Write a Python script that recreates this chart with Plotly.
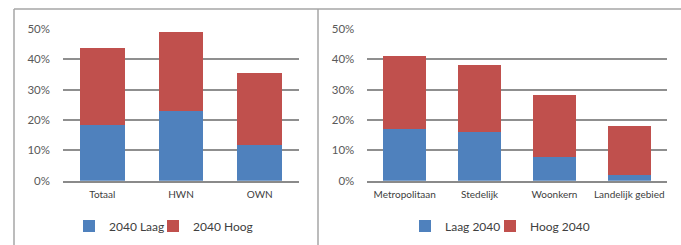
import plotly.graph_objects as go

cats_left = ["Totaal", "HWN", "OWN"]
laag_left = [0.183, 0.229, 0.118]
hoog_left = [0.252, 0.259, 0.237]

cats_right = ["Metropolitaan", "Stedelijk", "Woonkern", "Landelijk gebied"]
laag_right = [0.169, 0.159, 0.079, 0.019]
hoog_right = [0.241, 0.221, 0.202, 0.161]

names_left = ["2040 Laag", "2040 Hoog"]
names_right = ["Laag 2040", "Hoog 2040"]

BLUE = "#4F81BD"
RED = "#C0504D"
W, H = 681, 245
FONT = "Lato, Carlito, sans-serif"

fig = go.Figure()
fig.add_trace(go.Bar(x=cats_left, y=laag_left, name=names_left[0], marker_color=BLUE,
                     marker_line_width=0, width=0.57, xaxis="x", yaxis="y",
                     legend="legend", legendwidth=39))
fig.add_trace(go.Bar(x=cats_left, y=hoog_left, name=names_left[1], marker_color=RED,
                     marker_line_width=0, width=0.57, xaxis="x", yaxis="y",
                     legend="legend", legendwidth=70))
fig.add_trace(go.Bar(x=cats_right, y=laag_right, name=names_right[0], marker_color=BLUE,
                     marker_line_width=0, width=0.57, xaxis="x2", yaxis="y2",
                     legend="legend2", legendwidth=40))
fig.add_trace(go.Bar(x=cats_right, y=hoog_right, name=names_right[1], marker_color=RED,
                     marker_line_width=0, width=0.57, xaxis="x2", yaxis="y2",
                     legend="legend2", legendwidth=70))

ydom = [1 - 180.7 / H, 1 - 28.7 / H]
yaxis_common = dict(range=[0, 0.5], dtick=0.1, tickformat=".0%", showgrid=True,
                    gridcolor="#8F8F8F", gridwidth=1.6, zeroline=False,
                    showline=False, ticks="", fixedrange=True, automargin=False,
                    tickfont=dict(family=FONT, size=11.5, color="#595959"),
                    ticklabelstandoff=12, domain=ydom)
xaxis_common = dict(showline=True, linecolor="#8A8A8A", linewidth=1.8, ticks="",
                    automargin=False, showgrid=False,
                    tickfont=dict(family=FONT, size=10, color="#404040"),
                    ticklabelstandoff=3, fixedrange=True)

legend_common = dict(orientation="h", xanchor="left", yanchor="middle",
                     font=dict(family=FONT, size=12, color="#404040"), traceorder="normal",
                     itemwidth=30, bgcolor="rgba(0,0,0,0)")

fig.update_layout(
    template="none",
    width=W, height=H,
    margin=dict(l=0, r=0, t=0, b=0, autoexpand=False),
    paper_bgcolor="white", plot_bgcolor="white",
    barmode="stack",
    font=dict(family=FONT),
    showlegend=True,
    hovermode=False,
    xaxis=dict(domain=[63 / W, 299 / W], anchor="y", **xaxis_common),
    yaxis=dict(anchor="x", **yaxis_common),
    xaxis2=dict(domain=[367.3 / W, 666.7 / W], anchor="y2", **xaxis_common),
    yaxis2=dict(anchor="x2", **yaxis_common),
    legend=dict(x=69 / W, y=1 - 226 / H, **legend_common),
    legend2=dict(x=405 / W, y=1 - 226 / H, **legend_common),
    shapes=[
        dict(type="line", xref="paper", yref="paper", x0=14 / W, x1=1, y0=1 - 9 / H, y1=1 - 9 / H,
             line=dict(color="#A6A6A6", width=1.5)),
        dict(type="line", xref="paper", yref="paper", x0=14 / W, x1=14 / W, y0=0, y1=1 - 9 / H,
             line=dict(color="#A6A6A6", width=1.5)),
        dict(type="line", xref="paper", yref="paper", x0=318 / W, x1=318 / W, y0=0, y1=1 - 9 / H,
             line=dict(color="#A6A6A6", width=1.5)),
    ],
)

fig.write_html("out.html", config={"displayModeBar": False, "staticPlot": False},
               post_script="document.body.style.margin='0';document.body.style.overflow='hidden';")
